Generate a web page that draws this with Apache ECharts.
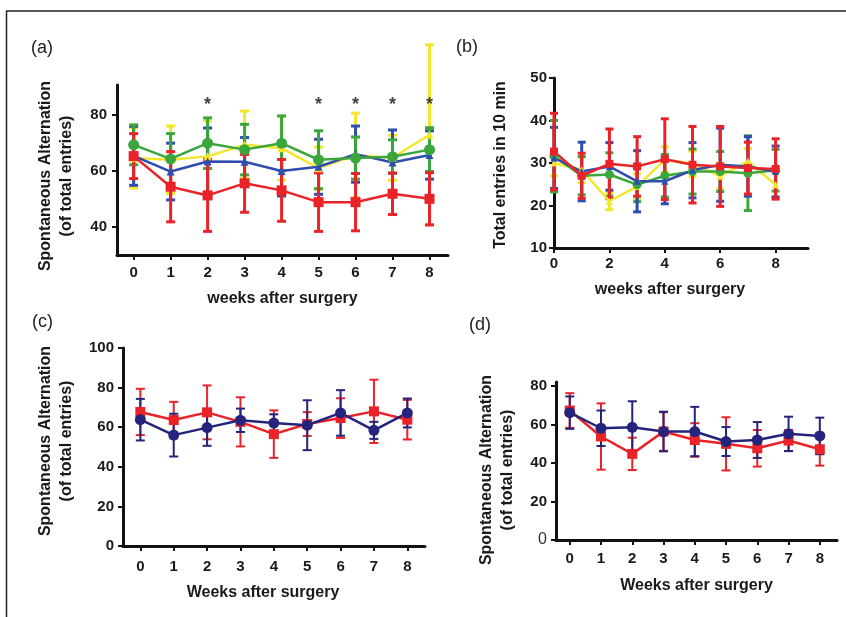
<!DOCTYPE html>
<html>
<head>
<meta charset="utf-8">
<script src="https://cdn.jsdelivr.net/npm/echarts@6/dist/echarts.min.js"></script>
<style>
  html, body { margin: 0; padding: 0; background: #fff; }
  #main { width: 846px; height: 617px; }
</style>
</head>
<body>
<div id="main"></div>
<script>
// weeks after surgery
var weeks = [0, 1, 2, 3, 4, 5, 6, 7, 8];

// (a) spontaneous alternation, four groups (mean, error)
var aYellow = [64.5, 63.9, 65.1, 69.2, 68.0, 60.9, 65.5, 64.6, 72.8];
var aYellowErr = [10.7, 12.0, 12.6, 12.0, 11.3, 7.5, 15.0, 8.0, 32.0];
var aBlue = [65.3, 59.7, 63.3, 63.2, 59.9, 61.4, 65.9, 62.9, 65.6];
var aBlueErr = [10.5, 10.1, 11.9, 8.6, 8.9, 9.8, 10.0, 11.6, 8.6];
var aGreen = [69.2, 64.2, 69.8, 67.5, 69.8, 63.9, 64.5, 65.0, 67.5];
var aGreenErr = [7.1, 9.0, 9.0, 9.0, 9.7, 10.3, 7.5, 6.0, 7.8];
var aRed = [65.2, 54.3, 51.2, 55.5, 53.0, 48.8, 48.8, 51.8, 50.0];
var aRedErr = [8.0, 12.5, 12.8, 10.3, 11.0, 10.4, 10.2, 7.4, 9.3];
var starWeeks = [2, 5, 6, 7, 8];
var starLevel = 83.5;

// (b) total entries in 10 min
var bYellow = [30.0, 28.4, 21.0, 24.5, 30.8, 29.8, 26.9, 30.4, 24.9];
var bYellowErr = [3, 3, 2, 3, 3, 3, 3, 3, 3];
var bGreen = [31.6, 27.0, 27.3, 24.9, 27.0, 28.0, 28.0, 27.6, 28.3];
var bGreenErr = [8.4, 4.5, 5.1, 4.0, 5.0, 5.3, 4.7, 8.8, 4.9];
var bBlue = [31.2, 28.0, 29.2, 25.7, 25.7, 28.3, 29.6, 29.2, 28.0];
var bBlueErr = [7.2, 6.9, 5.6, 7.2, 5.3, 6.5, 8.6, 7.0, 6.0];
var bRed = [32.7, 27.0, 29.8, 29.2, 30.9, 29.6, 29.2, 28.8, 28.6];
var bRedErr = [9.0, 5.3, 8.2, 7.0, 9.5, 9.0, 9.4, 6.1, 7.1];

// (c)
var cRed = [67.7, 63.6, 67.5, 62.7, 56.5, 61.6, 64.6, 68.0, 63.8];
var cRedErr = [11.7, 9.2, 13.6, 12.4, 12.0, 6.0, 10.0, 16.0, 10.0];
var cBlue = [63.8, 56.0, 59.8, 63.5, 62.1, 61.0, 67.2, 58.4, 67.2];
var cBlueErr = [10.5, 10.8, 9.2, 5.9, 4.4, 12.6, 11.5, 4.3, 7.3];

// (d)
var dRed = [67.2, 53.7, 44.7, 56.3, 51.9, 49.9, 47.6, 51.6, 47.1];
var dRedErr = [9.0, 17.2, 8.4, 10.0, 8.7, 13.8, 9.5, 5.5, 8.5];
var dBlue = [66.1, 58.0, 58.5, 56.3, 56.3, 51.1, 51.9, 55.1, 54.0];
var dBlueErr = [8.4, 9.2, 13.5, 10.3, 12.8, 7.5, 9.3, 8.9, 9.5];

var aTicks = [40, 60, 80];
var bTicksX = [0, 2, 4, 6, 8];
var dTicks = [0, 20, 40, 60, 80];

var FONT = '"Liberation Sans", Arial, sans-serif';
var RED = '#ea2329', BLUE = '#2f4cae', GREEN = '#3aa63c', YELLOW = '#f3e62a', NAVY = '#24247c';

var chart = echarts.init(document.getElementById('main'));

function pts(vals) {
    return weeks.map(function (w, i) { return [w, vals[i]]; });
}

// error bar: vertical stroke with a cap on each end
function errSeries(idx, vals, errs, color, capW, lw) {
    return {
        type: 'custom',
        xAxisIndex: idx, yAxisIndex: idx,
        clip: false,
        silent: true,
        data: weeks.map(function (w, i) { return [w, vals[i] - errs[i], vals[i] + errs[i]]; }),
        encode: { x: 0, y: [1, 2] },
        renderItem: function (params, api) {
            var lo = api.coord([api.value(0), api.value(1)]);
            var hi = api.coord([api.value(0), api.value(2)]);
            var h = capW / 2;
            var st = { stroke: color, lineWidth: lw };
            return {
                type: 'group',
                children: [
                    { type: 'line', shape: { x1: lo[0], y1: lo[1], x2: hi[0], y2: hi[1] }, style: st },
                    { type: 'line', shape: { x1: hi[0] - h, y1: hi[1], x2: hi[0] + h, y2: hi[1] }, style: st },
                    { type: 'line', shape: { x1: lo[0] - h, y1: lo[1], x2: lo[0] + h, y2: lo[1] }, style: st }
                ]
            };
        }
    };
}

function lineSeries(idx, vals, color, symbol, size, lw) {
    return {
        type: 'line',
        xAxisIndex: idx, yAxisIndex: idx,
        data: pts(vals),
        symbol: symbol,
        symbolSize: size,
        showSymbol: true,
        silent: true,
        lineStyle: { color: color, width: lw },
        itemStyle: { color: color, borderWidth: 0 }
    };
}

function group(idx, vals, errs, color, symbol, size, lw, capW, elw) {
    return [errSeries(idx, vals, errs, color, capW, elw), lineSeries(idx, vals, color, symbol, size, lw)];
}

var axisCommon = {
    type: 'value',
    splitLine: { show: false },
    axisLine: { show: true, onZero: false, lineStyle: { color: '#111', width: 3 } },
    axisTick: { show: true, length: 5, lineStyle: { color: '#111', width: 2 } },
    nameLocation: 'middle',
    nameTextStyle: { fontFamily: FONT, fontWeight: 'bold', fontSize: 16, color: '#1a1a1a', lineHeight: 21 }
};

function xAxis(idx, min, max, ticks, name, gap, margin, pad) {
    return Object.assign({}, axisCommon, {
        gridIndex: idx, min: min, max: max,
        name: name, nameGap: gap,
        nameTextStyle: Object.assign({}, axisCommon.nameTextStyle, { padding: pad || 0 }),
        axisTick: Object.assign({}, axisCommon.axisTick, { customValues: ticks }),
        axisLabel: { customValues: ticks, margin: margin, fontFamily: FONT, fontWeight: 'bold', fontSize: 15, color: '#1a1a1a' }
    });
}

function yAxis(idx, min, max, ticks, name, gap, margin, step, pad) {
    var ax = Object.assign({}, axisCommon, {
        gridIndex: idx, min: min, max: max,
        name: name, nameGap: gap,
        nameTextStyle: Object.assign({}, axisCommon.nameTextStyle, { padding: pad || 0 }),
        axisLabel: { margin: margin, fontFamily: FONT, fontWeight: 'bold', fontSize: 15, color: '#1a1a1a' }
    });
    if (ticks) {
        ax.axisTick = Object.assign({}, axisCommon.axisTick, { customValues: ticks });
        ax.axisLabel.customValues = ticks;
    } else {
        ax.interval = step;
    }
    return ax;
}

var series = [];
series = series.concat(group(0, aYellow, aYellowErr, YELLOW, 'triangle', 8, 2.5, 9, 3));
series = series.concat(group(0, aBlue, aBlueErr, BLUE, 'triangle', 8, 2.5, 9, 3));
series = series.concat(group(0, aGreen, aGreenErr, GREEN, 'circle', 11, 2.5, 9, 3));
series = series.concat(group(0, aRed, aRedErr, RED, 'rect', 10, 2.5, 9, 3));
series.push({
    type: 'scatter', xAxisIndex: 0, yAxisIndex: 0, silent: true,
    data: starWeeks.map(function (w) { return [w, starLevel]; }),
    symbolSize: 1, itemStyle: { color: 'rgba(0,0,0,0)' },
    label: { show: true, position: 'inside', formatter: '*', fontFamily: FONT, fontWeight: 'bold', fontSize: 18, color: '#111' }
});

series = series.concat(group(1, bYellow, bYellowErr, YELLOW, 'triangle', 7, 2.5, 8, 3));
series = series.concat(group(1, bGreen, bGreenErr, GREEN, 'circle', 9, 2.5, 8, 3));
series = series.concat(group(1, bBlue, bBlueErr, BLUE, 'triangle', 7, 2.5, 8, 3));
series = series.concat(group(1, bRed, bRedErr, RED, 'rect', 8, 2.5, 8, 3));

series = series.concat(group(2, cRed, cRedErr, RED, 'rect', 10, 2.5, 9, 2));
series = series.concat(group(2, cBlue, cBlueErr, NAVY, 'circle', 11, 2.5, 9, 2));

series = series.concat(group(3, dRed, dRedErr, RED, 'rect', 10, 2.5, 9, 2));
series = series.concat(group(3, dBlue, dBlueErr, NAVY, 'circle', 11, 2.5, 9, 2));

var option = {
    backgroundColor: '#fff',
    animation: false,
    grid: [
        { left: 117, top: 85, width: 331, height: 170 },
        { left: 554, top: 78, width: 254, height: 170 },
        { left: 123, top: 348, width: 302, height: 198 },
        { left: 556, top: 382, width: 281, height: 158 }
    ],
    xAxis: [
        xAxis(0, -0.45, 8.5, weeks, 'weeks after surgery', 33, 10),
        xAxis(1, 0, 9.17, bTicksX, 'weeks after surgery', 31, 8, [0, 22, 0, 0]),
        xAxis(2, -0.52, 8.53, weeks, 'Weeks after surgery', 36, 13, [0, 22, 0, 0]),
        xAxis(3, -0.44, 8.55, weeks, 'Weeks after surgery', 35, 11)
    ],
    yAxis: [
        yAxis(0, 30, 90.5, aTicks, 'Spontaneous Alternation\n(of total entries)', 40, 10, null, [0, 12, 0, 0]),
        yAxis(1, 10, 50, null, 'Total entries in 10 min', 43, 7, 10, [0, 4, 0, 0]),
        yAxis(2, 0, 100, null, 'Spontaneous Alternation\n(of total entries)', 46, 9, 20, [0, 0, 0, 12]),
        yAxis(3, 0, 82, dTicks, 'Spontaneous Alternation\n(of total entries)', 38, 9, null, [0, 18, 0, 0])
    ],
    graphic: [
        { type: 'line', shape: { x1: 6, y1: 11, x2: 846, y2: 11 }, style: { stroke: '#222', lineWidth: 1.5 } },
        { type: 'line', shape: { x1: 6.5, y1: 11, x2: 6.5, y2: 617 }, style: { stroke: '#222', lineWidth: 1.5 } },
        { type: 'text', left: 31, top: 39, style: { text: '(a)', font: '18px ' + FONT, fill: '#222' } },
        { type: 'text', left: 456, top: 38, style: { text: '(b)', font: '18px ' + FONT, fill: '#222' } },
        { type: 'text', left: 32, top: 313, style: { text: '(c)', font: '18px ' + FONT, fill: '#222' } },
        { type: 'text', left: 469, top: 316, style: { text: '(d)', font: '18px ' + FONT, fill: '#222' } }
    ],
    series: series
};

// (d): the zero label is drawn in a plain weight
option.yAxis[3].axisLabel.formatter = function (v) { return v === 0 ? '{n|0}' : String(v); };
option.yAxis[3].axisLabel.rich = { n: { fontFamily: FONT, fontWeight: 'normal', fontSize: 16, color: '#333' } };

chart.setOption(option);
</script>
</body>
</html>
